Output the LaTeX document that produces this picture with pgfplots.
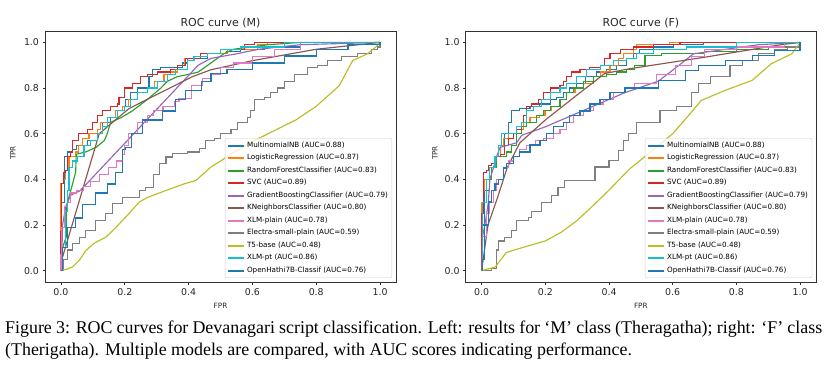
\documentclass[border=0pt]{standalone}
\usepackage{pgfplots}
\pgfplotsset{compat=1.18}
\usepackage{fontspec}
\newfontfamily\dv{DejaVu Sans}
\newfontfamily\capfont{Liberation Serif}
\definecolor{c0}{HTML}{1F77B4}
\definecolor{c1}{HTML}{FF7F0E}
\definecolor{c2}{HTML}{2CA02C}
\definecolor{c3}{HTML}{D62728}
\definecolor{c4}{HTML}{9467BD}
\definecolor{c5}{HTML}{8C564B}
\definecolor{c6}{HTML}{E377C2}
\definecolor{c7}{HTML}{7F7F7F}
\definecolor{c8}{HTML}{BCBD22}
\definecolor{c9}{HTML}{17BECF}
\pgfplotsset{
  rocstyle/.style={
    scale only axis, width=351pt, height=251pt,
    xmin=-0.05, xmax=1.05, ymin=-0.05, ymax=1.05,
    xtick={0,0.2,0.4,0.6,0.8,1}, xticklabels={0.0,0.2,0.4,0.6,0.8,1.0},
    ytick={0,0.2,0.4,0.6,0.8,1}, yticklabels={0.0,0.2,0.4,0.6,0.8,1.0},
    tick pos=left, tick align=outside, major tick length=2.5pt,
    tick style={black!80, line width=0.6pt},
    axis line style={black!80, line width=0.6pt},
    ticklabel style={font=\dv\fontsize{9.4}{11}\selectfont, text=black!85},
    every axis plot/.append style={line width=1.15pt},
    legend cell align=left,
    legend style={at={(0.989,0.016)}, anchor=south east, draw=black!20,
      rounded corners=2pt, fill=white, fill opacity=0.8, text opacity=1,
      inner xsep=1.5pt, inner ysep=1pt, font=\dv\fontsize{7.2}{8}\selectfont,
      nodes={inner sep=2.5pt, text height=5.6pt, text depth=1.9pt}, row sep=0pt},
    legend image code/.code={\draw[#1, line width=2pt] (0pt,0pt) -- (16pt,0pt);},
  }
}
\begin{document}
\begin{tikzpicture}
\path[use as bounding box] (0pt,0pt) rectangle (836pt,368pt);
% ---------------- Left: M ----------------
\begin{axis}[rocstyle, name=L, at={(45pt,86pt)}, anchor=south west]
\addplot[c0, const plot] coordinates {(0,0)(0.003,0.3)(0.01,0.5)(0.02,0.52)(0.036,0.53)(0.05,0.55)(0.083,0.57)(0.114,0.6)(0.13,0.65)(0.156,0.67)(0.177,0.7)(0.192,0.72)(0.203,0.75)(0.219,0.78)(0.24,0.8)(0.261,0.8)(0.276,0.85)(0.287,0.88)(0.313,0.89)(0.365,0.89)(0.38,0.91)(0.396,0.93)(0.46,0.95)(0.52,0.96)(0.564,0.97)(0.637,0.98)(0.75,1.0)(1,1)};
\addlegendentry{MultinomialNB (AUC=0.88)}
\addplot[c1, const plot] coordinates {(0,0)(0,0.38)(0.009,0.4)(0.015,0.44)(0.025,0.5)(0.046,0.52)(0.056,0.55)(0.067,0.58)(0.088,0.6)(0.114,0.62)(0.124,0.65)(0.145,0.67)(0.172,0.7)(0.192,0.72)(0.213,0.75)(0.24,0.78)(0.271,0.8)(0.292,0.83)(0.323,0.86)(0.344,0.87)(0.365,0.9)(0.386,0.93)(0.438,0.95)(0.522,0.97)(0.616,0.99)(0.648,1)(1,1)};
\addlegendentry{LogisticRegression (AUC=0.87)}
\addplot[c2] coordinates {(0,0)(0.005,0.1)(0.017,0.15)(0.017,0.28)(0.046,0.43)(0.048,0.51)(0.078,0.52)(0.11,0.54)(0.136,0.57)(0.145,0.6)(0.156,0.65)(0.188,0.67)(0.224,0.7)(0.271,0.75)(0.313,0.8)(0.334,0.83)(0.365,0.85)(0.4,0.86)(0.43,0.87)(0.46,0.9)(0.49,0.93)(0.51,0.95)(0.54,0.97)(0.65,0.99)(0.75,1)(1,1)};
\addlegendentry{RandomForestClassifier (AUC=0.83)}
\addplot[c3, const plot] coordinates {(0,0)(0,0.17)(0.002,0.38)(0.009,0.43)(0.015,0.44)(0.02,0.5)(0.03,0.52)(0.036,0.57)(0.056,0.6)(0.083,0.62)(0.098,0.65)(0.114,0.68)(0.13,0.7)(0.156,0.72)(0.177,0.73)(0.182,0.76)(0.198,0.8)(0.224,0.82)(0.25,0.85)(0.271,0.86)(0.302,0.87)(0.344,0.88)(0.365,0.9)(0.391,0.93)(0.438,0.95)(0.501,0.97)(0.574,0.99)(0.606,1)(1,1)};
\addlegendentry{SVC (AUC=0.89)}
\addplot[c4] coordinates {(0,0)(0.003,0.08)(0.005,0.2)(0.015,0.28)(0.03,0.33)(0.06,0.35)(0.41,0.87)(0.43,0.9)(0.47,0.93)(0.55,0.95)(0.62,0.97)(0.75,0.99)(1,1)};
\addlegendentry{GradientBoostingClassifier (AUC=0.79)}
\addplot[c5] coordinates {(0,0)(0.003,0.05)(0.12,0.6)(0.213,0.71)(0.412,0.85)(0.47,0.88)(0.6,0.92)(0.8,0.97)(1,1)};
\addlegendentry{KNeighborsClassifier (AUC=0.80)}
\addplot[c6, const plot] coordinates {(0,0)(0,0.07)(0.002,0.19)(0.01,0.28)(0.02,0.3)(0.03,0.34)(0.05,0.35)(0.07,0.37)(0.093,0.39)(0.12,0.42)(0.15,0.45)(0.175,0.48)(0.193,0.51)(0.2,0.55)(0.213,0.6)(0.24,0.65)(0.27,0.68)(0.29,0.7)(0.32,0.72)(0.355,0.74)(0.37,0.755)(0.41,0.81)(0.444,0.84)(0.47,0.86)(0.5,0.89)(0.54,0.91)(0.6,0.94)(0.67,0.97)(0.75,1)(1,1)};
\addlegendentry{XLM-plain (AUC=0.78)}
\addplot[c7, const plot] coordinates {(0,0)(0.009,0.05)(0.02,0.09)(0.036,0.12)(0.057,0.146)(0.078,0.176)(0.109,0.22)(0.14,0.249)(0.161,0.293)(0.193,0.322)(0.245,0.351)(0.266,0.366)(0.29,0.42)(0.31,0.47)(0.329,0.498)(0.35,0.512)(0.396,0.52)(0.433,0.534)(0.454,0.571)(0.48,0.58)(0.501,0.6)(0.533,0.62)(0.553,0.65)(0.585,0.67)(0.595,0.7)(0.606,0.75)(0.637,0.76)(0.658,0.78)(0.679,0.8)(0.7,0.83)(0.731,0.86)(0.773,0.89)(0.804,0.9)(0.836,0.92)(0.878,0.94)(0.93,0.95)(0.972,0.97)(0.993,0.98)(1,1)};
\addlegendentry{Electra-small-plain (AUC=0.59)}
\addplot[c8] coordinates {(0,0)(0.02,0.007)(0.035,0.015)(0.057,0.044)(0.078,0.088)(0.104,0.12)(0.14,0.146)(0.166,0.18)(0.193,0.22)(0.22,0.26)(0.245,0.3)(0.27,0.32)(0.329,0.351)(0.386,0.38)(0.423,0.395)(0.47,0.454)(0.5,0.48)(0.543,0.52)(0.606,0.57)(0.736,0.66)(0.8,0.72)(0.872,0.81)(0.914,0.92)(0.96,0.95)(0.987,0.98)(1,1)};
\addlegendentry{T5-base (AUC=0.48)}
\addplot[c9, const plot] coordinates {(0,0)(0.005,0.1)(0.013,0.26)(0.02,0.35)(0.025,0.45)(0.036,0.48)(0.051,0.5)(0.072,0.55)(0.093,0.57)(0.114,0.6)(0.13,0.63)(0.145,0.67)(0.177,0.7)(0.198,0.72)(0.219,0.75)(0.24,0.78)(0.271,0.8)(0.302,0.83)(0.334,0.86)(0.36,0.88)(0.396,0.92)(0.417,0.94)(0.459,0.95)(0.501,0.97)(0.564,0.98)(0.7,1)(1,1)};
\addlegendentry{XLM-pt (AUC=0.86)}
\addplot[c0, const plot, line width=1.3pt] coordinates {(0,0)(0.005,0.1)(0.02,0.19)(0.046,0.23)(0.067,0.29)(0.109,0.34)(0.146,0.38)(0.172,0.43)(0.193,0.53)(0.203,0.54)(0.22,0.6)(0.255,0.66)(0.318,0.7)(0.36,0.75)(0.39,0.79)(0.44,0.83)(0.47,0.865)(0.52,0.88)(0.6,0.91)(0.7,0.94)(0.8,0.97)(0.9,0.99)(1,1)};
\addlegendentry{OpenHathi7B-Classif (AUC=0.76)}
\end{axis}
\node[font=\dv\fontsize{11}{13}\selectfont, anchor=base, text=black!85] at ([yshift=5pt]L.north) {ROC curve (M)};
\node[font=\dv\fontsize{7.3}{8}\selectfont, text=black!85] at ([yshift=-24pt]L.south) {FPR};
\node[font=\dv\fontsize{7.3}{8}\selectfont, rotate=90, text=black!85] at ([xshift=-32pt,yshift=3.5pt]L.west) {TPR};
% ---------------- Right: F ----------------
\begin{axis}[rocstyle, name=R, at={(465.7pt,86pt)}, anchor=south west, width=350.3pt]
\addplot[c0, const plot] coordinates {(0,0)(0.002,0.2)(0.01,0.35)(0.026,0.45)(0.047,0.5)(0.058,0.55)(0.073,0.6)(0.084,0.65)(0.094,0.7)(0.12,0.71)(0.152,0.72)(0.183,0.73)(0.215,0.75)(0.236,0.76)(0.257,0.78)(0.277,0.8)(0.298,0.82)(0.325,0.85)(0.361,0.87)(0.393,0.88)(0.424,0.9)(0.455,0.93)(0.476,0.95)(0.497,0.97)(0.539,0.98)(0.602,0.99)(0.696,1)(1,1)};
\addlegendentry{MultinomialNB (AUC=0.88)}
\addplot[c1, const plot] coordinates {(0,0)(0,0.3)(0.005,0.35)(0.01,0.4)(0.026,0.45)(0.042,0.5)(0.058,0.55)(0.068,0.58)(0.084,0.6)(0.11,0.62)(0.131,0.65)(0.152,0.67)(0.183,0.68)(0.199,0.7)(0.22,0.72)(0.246,0.75)(0.267,0.78)(0.293,0.8)(0.319,0.82)(0.351,0.85)(0.372,0.87)(0.403,0.9)(0.429,0.93)(0.445,0.95)(0.476,0.97)(0.487,0.99)(0.59,1)(1,1)};
\addlegendentry{LogisticRegression (AUC=0.87)}
\addplot[c2, const plot] coordinates {(0,0)(0,0.25)(0.005,0.3)(0.016,0.4)(0.031,0.45)(0.047,0.5)(0.078,0.52)(0.094,0.55)(0.11,0.6)(0.126,0.63)(0.141,0.65)(0.173,0.68)(0.194,0.7)(0.215,0.72)(0.246,0.75)(0.267,0.78)(0.288,0.8)(0.319,0.83)(0.351,0.85)(0.393,0.86)(0.424,0.87)(0.455,0.88)(0.48,0.9)(0.513,0.944)(0.565,0.95)(0.628,0.95)(0.7,0.96)(0.8,0.97)(0.9,0.98)(1,1)};
\addlegendentry{RandomForestClassifier (AUC=0.83)}
\addplot[c3, const plot] coordinates {(0,0)(0,0.25)(0.005,0.43)(0.016,0.44)(0.021,0.46)(0.031,0.47)(0.042,0.5)(0.058,0.51)(0.073,0.55)(0.084,0.58)(0.099,0.6)(0.11,0.62)(0.126,0.65)(0.131,0.68)(0.141,0.72)(0.157,0.73)(0.178,0.75)(0.194,0.78)(0.215,0.8)(0.246,0.81)(0.257,0.83)(0.267,0.85)(0.283,0.87)(0.309,0.88)(0.34,0.89)(0.372,0.9)(0.387,0.93)(0.403,0.95)(0.435,0.97)(0.476,0.98)(0.539,0.99)(0.623,1)(1,1)};
\addlegendentry{SVC (AUC=0.89)}
\addplot[c4] coordinates {(0,0)(0.003,0.15)(0.01,0.2)(0.016,0.25)(0.021,0.3)(0.026,0.4)(0.037,0.45)(0.047,0.5)(0.058,0.54)(0.084,0.55)(0.11,0.56)(0.126,0.593)(0.2,0.63)(0.3,0.69)(0.45,0.78)(0.555,0.83)(0.62,0.9)(0.665,0.95)(0.87,0.99)(1,1)};
\addlegendentry{GradientBoostingClassifier (AUC=0.79)}
\addplot[c5] coordinates {(0,0)(0.005,0.05)(0.02,0.2)(0.05,0.32)(0.08,0.45)(0.12,0.56)(0.2,0.66)(0.3,0.77)(0.387,0.864)(0.466,0.885)(0.7,0.935)(0.94,0.99)(1,1)};
\addlegendentry{KNeighborsClassifier (AUC=0.80)}
\addplot[c6, const plot] coordinates {(0,0)(0.002,0.15)(0.016,0.25)(0.026,0.3)(0.037,0.35)(0.047,0.4)(0.068,0.45)(0.084,0.48)(0.099,0.5)(0.12,0.53)(0.141,0.55)(0.168,0.57)(0.194,0.58)(0.225,0.6)(0.246,0.62)(0.267,0.65)(0.288,0.68)(0.319,0.7)(0.351,0.73)(0.382,0.75)(0.414,0.78)(0.45,0.8)(0.48,0.82)(0.55,0.86)(0.61,0.9)(0.66,0.94)(0.7,0.97)(0.8,0.98)(0.95,1)(1,1)};
\addlegendentry{XLM-plain (AUC=0.78)}
\addplot[c7, const plot] coordinates {(0,0)(0.03,0.01)(0.047,0.09)(0.052,0.13)(0.073,0.146)(0.094,0.176)(0.11,0.22)(0.146,0.234)(0.157,0.26)(0.188,0.3)(0.22,0.33)(0.24,0.366)(0.26,0.395)(0.314,0.395)(0.356,0.454)(0.4,0.483)(0.43,0.527)(0.445,0.57)(0.46,0.6)(0.487,0.65)(0.56,0.7)(0.613,0.72)(0.66,0.78)(0.68,0.82)(0.72,0.85)(0.78,0.9)(0.82,0.92)(0.87,0.95)(0.92,0.97)(0.96,0.98)(1,1)};
\addlegendentry{Electra-small-plain (AUC=0.59)}
\addplot[c8] coordinates {(0,0)(0.042,0.015)(0.078,0.08)(0.126,0.1)(0.2,0.13)(0.25,0.168)(0.3,0.22)(0.345,0.278)(0.398,0.35)(0.466,0.447)(0.54,0.53)(0.6,0.6)(0.65,0.68)(0.69,0.746)(0.765,0.79)(0.85,0.834)(0.91,0.907)(0.974,0.95)(1,1)};
\addlegendentry{T5-base (AUC=0.48)}
\addplot[c9, const plot] coordinates {(0,0)(0.003,0.3)(0.016,0.4)(0.026,0.45)(0.042,0.5)(0.052,0.55)(0.063,0.6)(0.089,0.6)(0.11,0.63)(0.126,0.65)(0.141,0.7)(0.162,0.72)(0.188,0.75)(0.215,0.78)(0.246,0.8)(0.267,0.82)(0.298,0.85)(0.33,0.88)(0.372,0.9)(0.414,0.92)(0.455,0.93)(0.487,0.95)(0.539,0.97)(0.644,0.98)(0.8,1)(1,1)};
\addlegendentry{XLM-pt (AUC=0.86)}
\addplot[c0, const plot, line width=1.3pt] coordinates {(0,0)(0.002,0.05)(0.01,0.2)(0.021,0.3)(0.031,0.35)(0.042,0.38)(0.052,0.4)(0.068,0.45)(0.078,0.47)(0.099,0.5)(0.12,0.52)(0.152,0.55)(0.183,0.57)(0.204,0.6)(0.225,0.63)(0.257,0.65)(0.277,0.68)(0.309,0.7)(0.34,0.73)(0.372,0.75)(0.403,0.78)(0.45,0.8)(0.555,0.834)(0.64,0.877)(0.68,0.9)(0.765,0.92)(0.85,0.944)(0.92,0.966)(1,1)};
\addlegendentry{OpenHathi7B-Classif (AUC=0.76)}
\end{axis}
\node[font=\dv\fontsize{11}{13}\selectfont, anchor=base, text=black!85] at ([yshift=5pt]R.north) {ROC curve (F)};
\node[font=\dv\fontsize{7.3}{8}\selectfont, text=black!85] at ([yshift=-24pt]R.south) {FPR};
\node[font=\dv\fontsize{7.3}{8}\selectfont, rotate=90, text=black!85] at ([xshift=-30.7pt,yshift=3.5pt]R.west) {TPR};
% ---------------- Caption ----------------
\node[anchor=base west, inner sep=0pt, font=\capfont\fontsize{17.9}{22}\selectfont] at (5pt,35pt) {\makebox[817pt][s]{Figure 3: ROC curves for Devanagari script classification. Left: results for ‘M’ class (Theragatha); right: ‘F’ class}};
\node[anchor=base west, inner sep=0pt, font=\capfont\fontsize{17.9}{22}\selectfont] at (5pt,13pt) {(Therigatha). Multiple models are compared, with AUC scores indicating performance.};
\end{tikzpicture}
\end{document}
